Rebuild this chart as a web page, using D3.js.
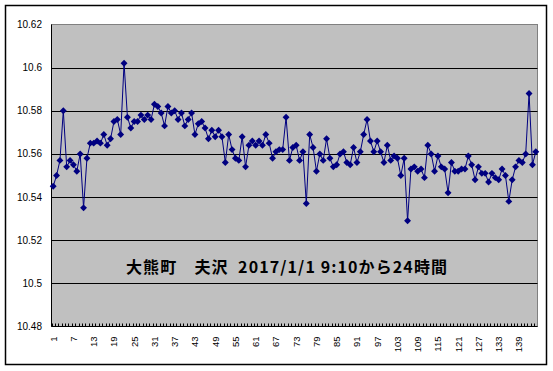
<!DOCTYPE html>
<html>
<head>
<meta charset="utf-8">
<script src="https://cdn.jsdelivr.net/npm/d3@7"></script>
<style>
  body { margin: 0; background: #fff; }
  svg { display: block; }
  .ylab, .xlab { font-family: "Liberation Sans", Arial, sans-serif; font-size: 10px; fill: #000; }
  .xlab { font-size: 9.5px; }
  .title { font-family: "Noto Sans CJK JP", sans-serif; font-size: 16px; font-weight: bold; fill: #000; }
</style>
</head>
<body>
<svg width="553" height="371"></svg>
<script>
const title = "大熊町　夫沢  2017/1/1 9:10から24時間"

// sample number 1..144 (10 minute steps)
const samples = d3.range(1, 145)

// readings
const values = [
  10.545, 10.550, 10.557, 10.580, 10.554, 10.557, 10.555, 10.552, 10.560, 10.535,
  10.558, 10.565, 10.565, 10.566, 10.565, 10.569, 10.564, 10.567, 10.575, 10.576,
  10.569, 10.602, 10.577, 10.572, 10.575, 10.575, 10.578, 10.576, 10.578, 10.576,
  10.583, 10.582, 10.579, 10.573, 10.582, 10.579, 10.580, 10.576, 10.579, 10.573,
  10.576, 10.579, 10.569, 10.574, 10.575, 10.572, 10.567, 10.571, 10.568, 10.571,
  10.568, 10.556, 10.569, 10.562, 10.558, 10.557, 10.568, 10.554, 10.564, 10.566,
  10.564, 10.566, 10.564, 10.569, 10.565, 10.558, 10.561, 10.562, 10.562, 10.577,
  10.557, 10.563, 10.564, 10.557, 10.561, 10.537, 10.569, 10.563, 10.552, 10.560,
  10.557, 10.567, 10.558, 10.554, 10.555, 10.560, 10.561, 10.556, 10.555, 10.563,
  10.556, 10.561, 10.569, 10.576, 10.566, 10.561, 10.566, 10.561, 10.556, 10.564,
  10.557, 10.559, 10.558, 10.550, 10.558, 10.529, 10.553, 10.554, 10.552, 10.553,
  10.549, 10.564, 10.560, 10.552, 10.559, 10.554, 10.553, 10.542, 10.556, 10.552,
  10.552, 10.553, 10.553, 10.559, 10.555, 10.548, 10.554, 10.551, 10.551, 10.547,
  10.551, 10.549, 10.548, 10.553, 10.550, 10.538, 10.548, 10.554, 10.557, 10.556,
  10.560, 10.588, 10.555, 10.561
]

const yTicks = [10.48, 10.5, 10.52, 10.54, 10.56, 10.58, 10.6, 10.62]
const xTickLabels = [1, 7, 13, 19, 25, 31, 37, 43, 49, 55, 61, 67, 73, 79, 85, 91, 97, 103, 109, 115, 121, 127, 133, 139]

let plot = { left: 51.5, right: 537.5, top: 24.5, bottom: 326.5 }

let svg = d3.select('svg')

// outer chart border
svg.append('rect')
  .attr('x', 5.5).attr('y', 5.5)
  .attr('width', 541).attr('height', 359)
  .attr('fill', '#fff')
  .attr('stroke', '#000')
  .attr('stroke-width', 1.5)

let x = d3.scaleBand()
  .domain(samples)
  .range([plot.left, plot.right])
  .padding(0)

let y = d3.scaleLinear()
  .domain([10.48, 10.62])
  .range([plot.bottom, plot.top])

// plot area
svg.append('rect')
  .attr('x', plot.left).attr('y', plot.top)
  .attr('width', plot.right - plot.left)
  .attr('height', plot.bottom - plot.top)
  .attr('fill', '#c0c0c0')
  .attr('stroke', '#808080')
  .attr('stroke-width', 1)

// gridlines
svg.append('g')
  .selectAll('line')
  .data(yTicks.slice(1, -1))
  .enter()
  .append('line')
  .attr('x1', plot.left).attr('x2', plot.right)
  .attr('y1', d => Math.round(y(d)) + 0.5)
  .attr('y2', d => Math.round(y(d)) + 0.5)
  .attr('stroke', '#000')

// y labels
svg.append('g')
  .selectAll('text')
  .data(yTicks)
  .enter()
  .append('text')
  .attr('class', 'ylab')
  .attr('x', 42)
  .attr('y', d => y(d) + 3.5)
  .attr('text-anchor', 'end')
  .text(d => d)

// axes lines
svg.append('line')
  .attr('x1', plot.left).attr('x2', plot.left)
  .attr('y1', plot.top).attr('y2', plot.bottom)
  .attr('stroke', '#000')

svg.append('line')
  .attr('x1', plot.left).attr('x2', plot.right)
  .attr('y1', plot.bottom).attr('y2', plot.bottom)
  .attr('stroke', '#000')

// category tick marks (inside)
svg.append('g')
  .selectAll('line')
  .data(samples)
  .enter()
  .append('line')
  .attr('x1', d => Math.round(x(d)) + 0.5)
  .attr('x2', d => Math.round(x(d)) + 0.5)
  .attr('y1', plot.bottom)
  .attr('y2', plot.bottom - 3)
  .attr('stroke', '#000')

// x labels, rotated
svg.append('g')
  .selectAll('text')
  .data(xTickLabels)
  .enter()
  .append('text')
  .attr('class', 'xlab')
  .attr('text-anchor', 'end')
  .attr('transform', d => `translate(${x(d) + x.bandwidth() / 2 + 3.5},${plot.bottom + 10}) rotate(-90)`)
  .text(d => d)

// data line
let line = d3.line()
  .x((d, i) => x(samples[i]) + x.bandwidth() / 2)
  .y(d => y(d))

svg.append('path')
  .datum(values)
  .attr('d', line)
  .attr('fill', 'none')
  .attr('stroke', '#000080')
  .attr('stroke-width', 1)

// diamond markers
let diamond = d3.symbol().type(d3.symbolSquare).size(24)

svg.append('g')
  .selectAll('path')
  .data(values)
  .enter()
  .append('path')
  .attr('d', diamond)
  .attr('transform', (d, i) => `translate(${x(samples[i]) + x.bandwidth() / 2},${y(d)}) rotate(45)`)
  .attr('fill', '#000080')

// chart caption
svg.append('text')
  .attr('class', 'title')
  .attr('x', 126)
  .attr('y', 273)
  .attr('textLength', 321)
  .attr('lengthAdjust', 'spacing')
  .attr('xml:space', 'preserve')
  .style('white-space', 'pre')
  .text(title)
</script>
</body>
</html>
